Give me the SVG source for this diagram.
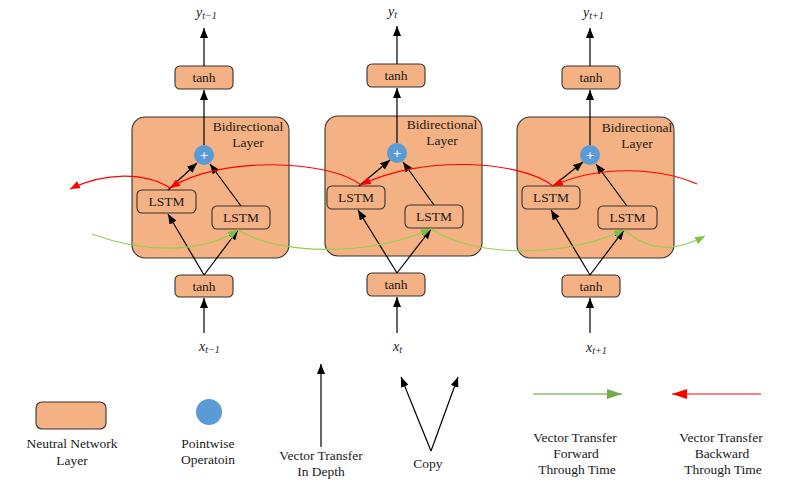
<svg xmlns="http://www.w3.org/2000/svg" width="800" height="491" viewBox="0 0 800 491" font-family="'Liberation Serif', 'DejaVu Serif', serif">
<style>
text{font-family:'Liberation Serif','DejaVu Serif',serif;fill:#1a1a1a}
.n{font-size:13.5px;text-anchor:middle}
.l{font-size:13.5px;text-anchor:middle}
.v{font-style:italic;font-size:14px}
.s{font-size:10px;font-style:italic}
.nb{fill:#f4b183;stroke:#333;stroke-width:1.1}
.op{fill:#5b9bd5}
.plus{font-family:'DejaVu Sans',sans-serif;font-size:11px;fill:#fff;text-anchor:middle}
.ar{stroke:#000;stroke-width:1.2;fill:none;marker-end:url(#ab)}
.rd{stroke:#ff0000;stroke-width:1.1;fill:none;marker-end:url(#ar)}
.gr{stroke:#92d050;stroke-width:1.1;fill:none;marker-end:url(#ag)}
</style>
<defs>
<marker id="ab" viewBox="0 0 10 8" refX="10" refY="4" markerWidth="10" markerHeight="8" markerUnits="userSpaceOnUse" orient="auto"><path d="M0,0 L10,4 L0,8 z" fill="#000"/></marker>
<marker id="ar" viewBox="0 0 10 8" refX="10" refY="4" markerWidth="10" markerHeight="8" markerUnits="userSpaceOnUse" orient="auto"><path d="M0,0 L10,4 L0,8 z" fill="#ff0000"/></marker>
<marker id="ag" viewBox="0 0 10 8" refX="10" refY="4" markerWidth="10" markerHeight="8" markerUnits="userSpaceOnUse" orient="auto"><path d="M0,0 L10,4 L0,8 z" fill="#7cc242"/></marker>
<marker id="lg" viewBox="0 0 15 10" refX="15" refY="5" markerWidth="15" markerHeight="10" markerUnits="userSpaceOnUse" orient="auto"><path d="M0,0 L15,5 L0,10 z" fill="#70ad47"/></marker>
<marker id="lr" viewBox="0 0 15 10" refX="15" refY="5" markerWidth="15" markerHeight="10" markerUnits="userSpaceOnUse" orient="auto"><path d="M0,0 L15,5 L0,10 z" fill="#ff0000"/></marker>
</defs>
<rect width="800" height="491" fill="#fff"/>

<!-- Cell 1 -->
<g id="cell1-bidir"><rect class="nb" x="132" y="117" width="157" height="141" rx="13"/><text class="n" x="248" y="131">Bidirectional</text><text class="n" x="248" y="147">Layer</text></g>
<g id="cell1-tanh-top"><rect class="nb" x="175" y="66" width="58" height="23" rx="5"/><text class="n" x="204" y="82">tanh</text></g>
<g id="cell1-plus"><circle class="op" cx="204" cy="155" r="10"/><text class="plus" x="204" y="159">+</text></g>
<g id="cell1-lstm-f"><rect class="nb" x="137" y="190" width="59" height="23" rx="5"/><text class="n" x="166.5" y="206">LSTM</text></g>
<g id="cell1-lstm-b"><rect class="nb" x="212" y="206" width="58" height="23" rx="5"/><text class="n" x="241" y="222">LSTM</text></g>
<g id="cell1-tanh-bot"><rect class="nb" x="175" y="275" width="58" height="22" rx="5"/><text class="n" x="204" y="290.5">tanh</text></g>
<g id="cell1-y"><text class="v" x="196" y="17">y<tspan class="s" dy="2">t−1</tspan></text></g>
<g id="cell1-x"><text class="v" x="199" y="351">x<tspan class="s" dy="2">t−1</tspan></text></g>

<!-- Cell 2 -->
<g id="cell2-bidir"><rect class="nb" x="325" y="116" width="157" height="140" rx="13"/><text class="n" x="442" y="129">Bidirectional</text><text class="n" x="442" y="145">Layer</text></g>
<g id="cell2-tanh-top"><rect class="nb" x="367" y="64" width="58" height="23" rx="5"/><text class="n" x="396" y="80">tanh</text></g>
<g id="cell2-plus"><circle class="op" cx="397" cy="153" r="10"/><text class="plus" x="397" y="157">+</text></g>
<g id="cell2-lstm-f"><rect class="nb" x="327" y="186" width="58" height="23" rx="5"/><text class="n" x="356" y="202">LSTM</text></g>
<g id="cell2-lstm-b"><rect class="nb" x="405" y="205" width="58" height="23" rx="5"/><text class="n" x="434" y="221">LSTM</text></g>
<g id="cell2-tanh-bot"><rect class="nb" x="367" y="273" width="58" height="23" rx="5"/><text class="n" x="396" y="289">tanh</text></g>
<g id="cell2-y"><text class="v" x="388" y="16">y<tspan class="s" dy="2">t</tspan></text></g>
<g id="cell2-x"><text class="v" x="393" y="351">x<tspan class="s" dy="2">t</tspan></text></g>

<!-- Cell 3 -->
<g id="cell3-bidir"><rect class="nb" x="517" y="117" width="157" height="141" rx="13"/><text class="n" x="637" y="132">Bidirectional</text><text class="n" x="637" y="148">Layer</text></g>
<g id="cell3-tanh-top"><rect class="nb" x="562" y="66" width="58" height="23" rx="5"/><text class="n" x="591" y="82">tanh</text></g>
<g id="cell3-plus"><circle class="op" cx="590" cy="155" r="10"/><text class="plus" x="590" y="159">+</text></g>
<g id="cell3-lstm-f"><rect class="nb" x="522" y="186" width="58" height="23" rx="5"/><text class="n" x="551" y="202">LSTM</text></g>
<g id="cell3-lstm-b"><rect class="nb" x="598" y="206" width="59" height="23" rx="5"/><text class="n" x="627.5" y="222">LSTM</text></g>
<g id="cell3-tanh-bot"><rect class="nb" x="562" y="275" width="58" height="22" rx="5"/><text class="n" x="591" y="290.5">tanh</text></g>
<g id="cell3-y"><text class="v" x="583" y="17">y<tspan class="s" dy="2">t+1</tspan></text></g>
<g id="cell3-x"><text class="v" x="586" y="352">x<tspan class="s" dy="2">t+1</tspan></text></g>

<!-- Connectors -->
<g id="connectors">
<path class="ar" d="M204,333 L204,298"/>
<path class="ar" d="M204,275 L168,214"/>
<path class="ar" d="M204,275 L238,230"/>
<path class="ar" d="M168,190 L197,163"/>
<path class="ar" d="M241,206 L210,164"/>
<path class="ar" d="M204,145 L204,90"/>
<path class="ar" d="M204,66 L204,28"/>

<path class="ar" d="M397,333 L397,297"/>
<path class="ar" d="M397,273 L358,210"/>
<path class="ar" d="M397,273 L431,229"/>
<path class="ar" d="M359,186 L390,160"/>
<path class="ar" d="M434,205 L403,162"/>
<path class="ar" d="M397,143 L397,88"/>
<path class="ar" d="M397,64 L397,26"/>

<path class="ar" d="M590,333 L590,298"/>
<path class="ar" d="M590,275 L551,210"/>
<path class="ar" d="M590,275 L624,230"/>
<path class="ar" d="M553,186 L583,162"/>
<path class="ar" d="M627,206 L596,164"/>
<path class="ar" d="M590,145 L590,90"/>
<path class="ar" d="M590,66 L590,28"/>

<path class="rd" d="M697,184 C660,168 600,164 553,186"/>
<path class="rd" d="M553,186 C520,160 420,155 361,185"/>
<path class="rd" d="M361,185 C330,160 220,155 170,188"/>
<path class="rd" d="M170,188 C145,172 105,172 70,189"/>

<path class="gr" d="M92,234 C140,252 200,255 238,230"/>
<path class="gr" d="M238,230 C280,256 370,256 431,229"/>
<path class="gr" d="M431,229 C475,258 565,258 624,230"/>
<path class="gr" d="M624,230 C650,252 675,252 705,236"/>
</g>

<!-- Legend -->
<g id="legend-layer"><rect class="nb" x="36" y="402" width="70" height="27" rx="6"/><text class="l" x="72" y="448">Neutral Network</text><text class="l" x="72" y="465">Layer</text></g>
<g id="legend-pointwise"><circle class="op" cx="209" cy="412" r="13"/><text class="l" x="208" y="448">Pointwise</text><text class="l" x="208" y="464">Operatoin</text></g>
<g id="legend-depth"><path class="ar" d="M321,447 L321,364"/><text class="l" x="321" y="460">Vector Transfer</text><text class="l" x="321" y="476">In Depth</text></g>
<g id="legend-copy"><path class="ar" d="M431,451 L401,377"/><path class="ar" d="M431,451 L458,377"/><text class="l" x="428" y="468">Copy</text></g>
<g id="legend-forward"><path d="M533,394 L622,394" stroke="#a9d18e" stroke-width="2" fill="none" marker-end="url(#lg)"/><text class="l" x="575" y="442">Vector Transfer</text><text class="l" x="576" y="458">Forward</text><text class="l" x="577" y="474">Through Time</text></g>
<g id="legend-backward"><path d="M761,394 L672,394" stroke="#ff7f7f" stroke-width="2" fill="none" marker-end="url(#lr)"/><text class="l" x="721" y="442">Vector Transfer</text><text class="l" x="722" y="458">Backward</text><text class="l" x="723" y="474">Through Time</text></g>
</svg>
